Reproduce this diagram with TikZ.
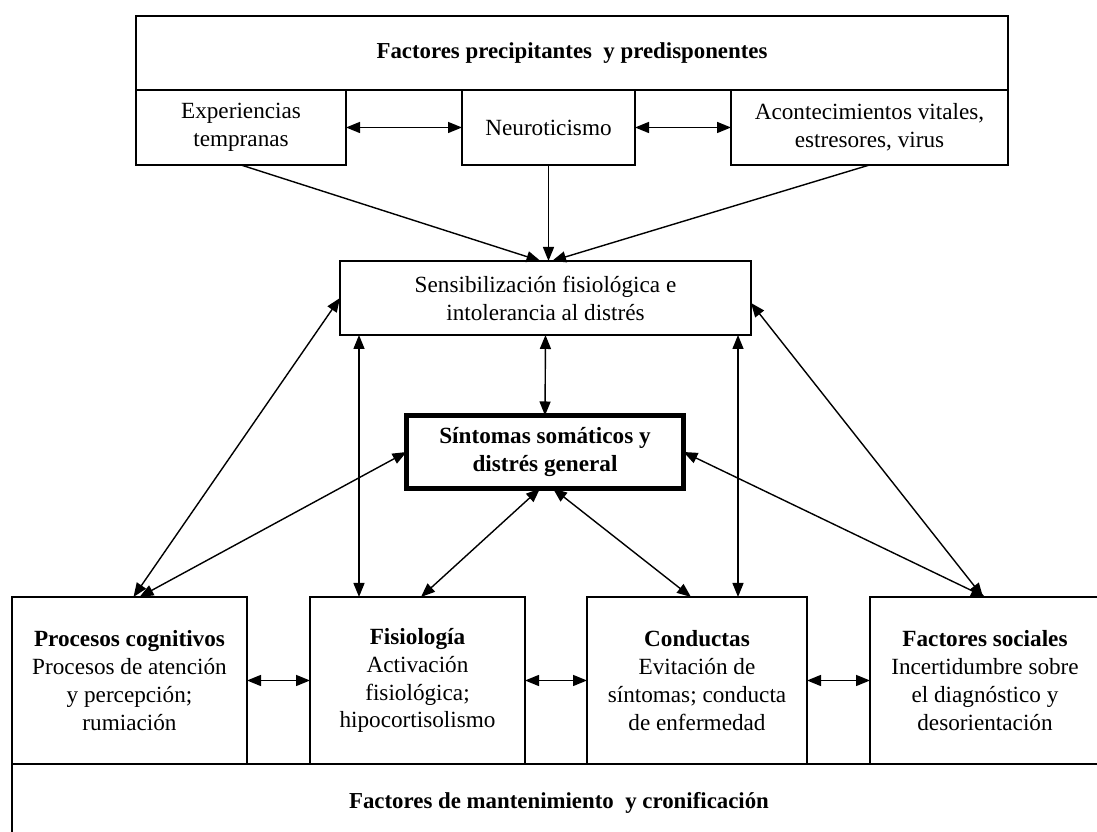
\documentclass[tikz,border=0pt]{standalone}
\usepackage{fontspec}
\setmainfont{Liberation Serif}
\usepackage{tikz}
\usetikzlibrary{positioning, arrows.meta, calc}

\tikzset{
    box/.style={draw, line width=0.9pt, align=center, inner sep=0pt, outer sep=0pt, font=\fontsize{13.2}{15.9}\selectfont},
    dbl/.style={{Triangle[length=2.8mm,width=2.2mm]}-{Triangle[length=2.8mm,width=2.2mm]}, line width=0.8pt},
    uni/.style={-{Triangle[length=2.8mm,width=2.2mm]}, line width=0.8pt}
}

\begin{document}
\begin{tikzpicture}
    \useasboundingbox (0,0) rectangle (21.94,16.64);
    \clip (0,0) rectangle (21.94,16.64);

    % === FACTORES PRECIPITANTES ===
    \node[box, minimum width=17.44cm, minimum height=1.48cm, font=\fontsize{13}{15.9}\selectfont\bfseries] (precip) at (11.44,15.58) {Factores precipitantes~ y predisponentes};
    \node[box, minimum width=4.2cm, minimum height=1.5cm] (exper) at (4.82,14.09) {Experiencias\\tempranas};
    \node[box, minimum width=3.46cm, minimum height=1.5cm] (neuro) at (10.97,14.09) {Neuroticismo};
    \node[box, minimum width=5.54cm, minimum height=1.5cm] (aconte) at (17.39,14.09) {Acontecimientos vitales,\\estresores, virus};

    \draw[dbl] (exper.east) -- (neuro.west);
    \draw[dbl] (neuro.east) -- (aconte.west);

    % Sensibilizacion
    \node[box, minimum width=8.22cm, minimum height=1.48cm] (sensib) at (10.91,10.68) {Sensibilización fisiológica e\\intolerancia al distrés};

    \draw[uni] (exper.south) -- ([xshift=-0.1cm]sensib.north);
    \draw[uni] (neuro.south) -- (neuro.south |- sensib.north);
    \draw[uni] (aconte.south) -- ([xshift=0.13cm]sensib.north);

    % Sintomas (centro)
    \node[box, line width=2.8pt, minimum width=5.54cm, minimum height=1.46cm, font=\fontsize{13.2}{15.9}\selectfont\bfseries] (sintom) at (10.90,7.60) {Síntomas somáticos y\\distrés general};

    \draw[dbl] (sensib.south) -- (sintom.north);

    % === FACTORES DE MANTENIMIENTO ===
    \node[box, minimum width=4.7cm, minimum height=3.34cm] (cognit) at (2.59,3.03) {\textbf{Procesos cognitivos}\\Procesos de atención\\y percepción;\\rumiación};
    \node[box, minimum width=4.3cm, minimum height=3.34cm] (fisio) at (8.35,3.03) {\textbf{Fisiología}\\Activación\\fisiológica;\\hipocortisolismo};
    \node[box, minimum width=4.4cm, minimum height=3.34cm] (conduc) at (13.94,3.03) {\textbf{Conductas}\\Evitación de\\síntomas; conducta\\de enfermedad};
    \node[box, minimum width=4.6cm, minimum height=3.34cm] (social) at (19.70,3.03) {\textbf{Factores sociales}\\Incertidumbre sobre\\el diagnóstico y\\desorientación};
    \node[box, minimum width=21.88cm, minimum height=1.56cm, font=\fontsize{13}{15.9}\selectfont\bfseries] (manten) at (11.18,0.58) {Factores de mantenimiento~ y cronificación};

    \draw[dbl] (cognit.east) -- (fisio.west);
    \draw[dbl] (fisio.east) -- (conduc.west);
    \draw[dbl] (conduc.east) -- (social.west);

    % Flechas hacia arriba
    \draw[dbl] ([xshift=0.08cm]cognit.north) -- (sensib.west);
    \draw[dbl] ([xshift=0.2cm]cognit.north) -- (sintom.west);
    \draw[dbl] ([xshift=-1.17cm]fisio.north) -- ([xshift=-1.17cm]fisio.north |- sensib.south);
    \draw[dbl] ([xshift=0.07cm]fisio.north) -- ([xshift=-0.1cm]sintom.south);
    \draw[dbl] ([xshift=-0.12cm]conduc.north) -- ([xshift=0.16cm]sintom.south);
    \draw[dbl] ([xshift=0.82cm]conduc.north) -- ([xshift=0.82cm]conduc.north |- sensib.south);
    \draw[dbl] (social.north) -- (sintom.east);
    \draw[dbl] ([xshift=-0.04cm]social.north) -- ([yshift=-0.1cm]sensib.east);
\end{tikzpicture}
\end{document}
